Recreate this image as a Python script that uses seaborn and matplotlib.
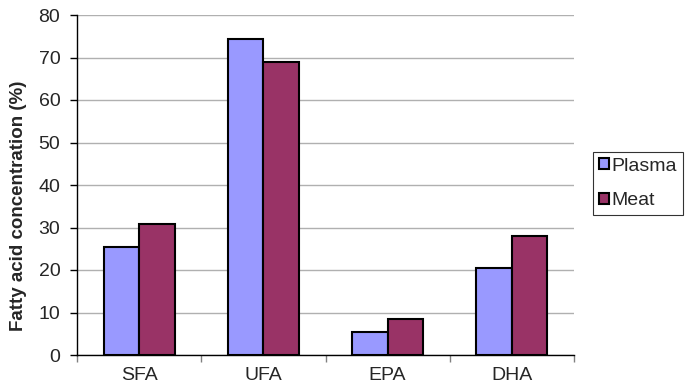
import matplotlib
matplotlib.use("Agg")
import matplotlib.pyplot as plt
import seaborn as sns
import pandas as pd
from matplotlib.patches import Patch

categories = ["SFA", "UFA", "EPA", "DHA"]
plasma = [25.5, 74.3, 5.3, 20.5]
meat = [30.9, 68.9, 8.4, 28.1]
series_names = ["Plasma", "Meat"]
colors = ["#9999FF", "#993366"]
y_ticks = [0, 10, 20, 30, 40, 50, 60, 70, 80]

df = pd.DataFrame({
    "category": categories * 2,
    "value": plasma + meat,
    "series": [series_names[0]] * len(categories) + [series_names[1]] * len(categories),
})

sns.set_style("white")
plt.rcParams["font.family"] = ["Liberation Sans", "DejaVu Sans"]

fig = plt.figure(figsize=(6.88, 3.86), dpi=100)
ax = fig.add_axes([77 / 688, 31 / 386, 497 / 688, 340 / 386])

sns.barplot(data=df, x="category", y="value", hue="series", order=categories,
            hue_order=series_names, palette=colors, width=0.571, gap=0,
            edgecolor="black", linewidth=1.5, saturation=1, ax=ax, legend=False)

ax.set_xlim(-0.5, 3.5)
ax.set_ylim(0, 80)
ax.set_yticks(y_ticks)
ax.yaxis.grid(True, color="#b0b0b0", linewidth=1)
ax.set_axisbelow(True)
for s in ["top", "right"]:
    ax.spines[s].set_visible(False)
for s in ["left", "bottom"]:
    ax.spines[s].set_color("black")
    ax.spines[s].set_linewidth(1)

ax.tick_params(axis="y", which="major", direction="out", length=5, width=1,
               color="black", labelsize=14, pad=7, left=True)
ax.tick_params(axis="x", which="major", length=0, labelsize=14, pad=9)
ax.set_xticks([-0.5, 0.5, 1.5, 2.5, 3.5], minor=True)
ax.tick_params(axis="x", which="minor", direction="out", length=5, width=1,
               color="#808080", bottom=True)
ax.set_xlabel("")
ax.set_ylabel("Fatty acid concentration (%)", fontsize=13.5, fontweight="bold")
ax.yaxis.set_label_coords(-0.1, 0.44)

handles = [Patch(facecolor=c, edgecolor="black", linewidth=1.5) for c in colors]
leg = fig.legend(handles, series_names, loc="upper left",
                 bbox_to_anchor=(593 / 688, 1 - 152 / 386),
                 frameon=True, fancybox=False, fontsize=14,
                 handlelength=0.5, handleheight=0.5, handletextpad=0.15,
                 borderpad=0.3, labelspacing=0.9, borderaxespad=0)
leg.get_frame().set_edgecolor("black")
leg.get_frame().set_linewidth(0.8)

fig.savefig("out.png", dpi=100)
